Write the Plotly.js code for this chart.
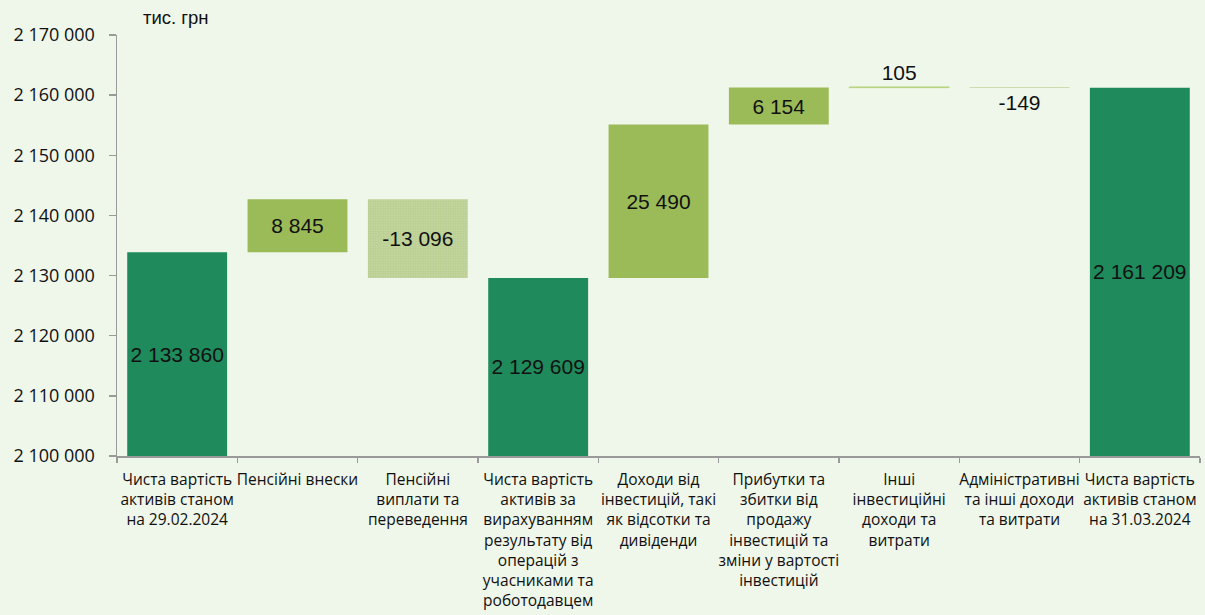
<!DOCTYPE html>
<html>
<head>
<meta charset="utf-8">
<script src="https://cdn.plot.ly/plotly-3.0.1.min.js"></script>
<style>html,body{margin:0;padding:0;background:#EFF6EA;}</style>
</head>
<body>
<div id="chart" style="width:1205px;height:615px;"></div>
<script>
const categories = [
  "Чиста вартість<br>активів станом<br>на 29.02.2024",
  "Пенсійні внески",
  "Пенсійні<br>виплати та<br>переведення",
  "Чиста вартість<br>активів за<br>вирахуванням<br>результату від<br>операцій з<br>учасниками та<br>роботодавцем",
  "Доходи від<br>інвестицій, такі<br>як відсотки та<br>дивіденди",
  "Прибутки та<br>збитки від<br>продажу<br>інвестицій та<br>зміни у вартості<br>інвестицій",
  "Інші<br>інвестиційні<br>доходи та<br>витрати",
  "Адміністративні<br>та інші доходи<br>та витрати",
  "Чиста вартість<br>активів станом<br>на 31.03.2024"
];
const values = [2133860, 8845, -13096, 2129609, 25490, 6154, 105, -149, 2161209];
const kinds = ["total","delta","delta","total","delta","delta","delta","delta","total"];
const unitLabel = "тис. грн";
const yMin = 2100000, yMax = 2170000;

function fmt(v){
  const s = Math.abs(v).toString().replace(/\B(?=(\d{3})+(?!\d))/g, " ");
  return (v < 0 ? "-" : "") + s;
}

// split into totals / increases / decreases
const tot = {y: [], base: [], text: []};
const inc = {y: [], base: [], text: [], pos: []};
const dec = {y: [], base: [], text: [], pos: []};
let running = 0;
values.forEach((v, i) => {
  const t = fmt(v);
  const push = (o, y, b, txt) => { o.y.push(y); o.base.push(b); o.text.push(txt); };
  if (kinds[i] === "total") {
    running = v;
    push(tot, v - yMin, yMin, t);
    push(inc, null, null, ""); push(dec, null, null, "");
  } else {
    const b = running; running += v;
    push(tot, null, null, "");
    if (v >= 0) { push(inc, v, b, t); push(dec, null, null, ""); }
    else { push(dec, v, b, t); push(inc, null, null, ""); }
  }
  const pos = Math.abs(v) < 1000 ? "outside" : "inside";
  inc.pos.push(pos); dec.pos.push(pos);
});

const tf = {family: "Liberation Sans, Arial, sans-serif", size: 21, color: "#111"};
const common = {type: "bar", x: categories, insidetextanchor: "middle", constraintext: "none",
  cliponaxis: false, textfont: tf, hoverinfo: "skip"};

const traces = [
  Object.assign({}, common, {y: tot.y, base: tot.base, text: tot.text, textposition: "inside",
    marker: {color: "#1F8A5B"}}),
  Object.assign({}, common, {y: inc.y, base: inc.base, text: inc.text, textposition: inc.pos,
    marker: {color: "#9BBB59", line: {color: "#B9D47F", width: values.map(v => Math.abs(v) < 1000 ? 1 : 0)}}}),
  Object.assign({}, common, {y: dec.y, base: dec.base, text: dec.text, textposition: dec.pos,
    marker: {color: "#EEF5E4", line: {width: 0},
      pattern: {shape: ".", fgcolor: "#86AA40", size: 2.5, solidity: 0.85, fillmode: "overlay"}}})
];

const layout = {
  width: 1205, height: 615,
  paper_bgcolor: "#EFF6EA", plot_bgcolor: "#EFF6EA",
  margin: {l: 117, r: 5, t: 35, b: 159},
  barmode: "overlay",
  bargap: 0.17,
  showlegend: false,
  separators: ". ",
  xaxis: {
    type: "category",
    showline: true, linecolor: "#9A9A9A", linewidth: 1.5,
    ticks: "outside", tickson: "boundaries", ticklen: 5, tickcolor: "#9A9A9A", tickwidth: 1.5,
    tickfont: {family: "Open Sans, sans-serif", size: 15.5, color: "#111"},
    ticklabelstandoff: 9,
    tickangle: 0,
    showgrid: false, zeroline: false, fixedrange: true
  },
  yaxis: {
    range: [yMin, yMax],
    dtick: 10000, tick0: yMin,
    tickformat: ",d",
    showline: true, linecolor: "#9A9A9A", linewidth: 1.5,
    ticks: "outside", ticklen: 7, tickcolor: "#9A9A9A", tickwidth: 1.5,
    ticklabelstandoff: 10,
    tickfont: {family: "Open Sans, sans-serif", size: 18, color: "#111"},
    showgrid: false, zeroline: false, fixedrange: true
  },
  annotations: [{
    text: unitLabel, xref: "paper", yref: "paper", x: 0.022, y: 1, yshift: 18,
    xanchor: "left", yanchor: "middle", showarrow: false,
    font: {family: "Liberation Sans, Arial, sans-serif", size: 18.5, color: "#111"}
  }]
};

Plotly.newPlot("chart", traces, layout, {displayModeBar: false, staticPlot: true});
</script>
</body>
</html>
